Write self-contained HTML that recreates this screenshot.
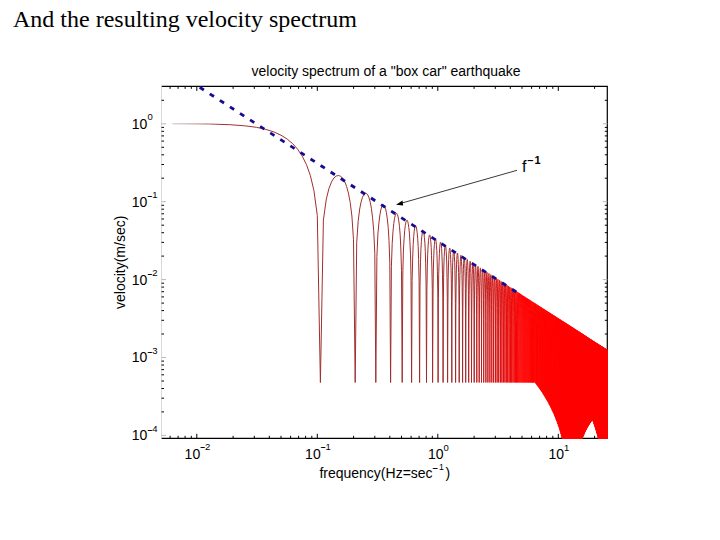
<!DOCTYPE html>
<html><head><meta charset="utf-8"><style>
html,body{margin:0;padding:0;background:#fff;width:720px;height:540px;overflow:hidden}
svg{position:absolute;left:0;top:0}
text{font-family:"Liberation Sans",sans-serif;font-size:14px;fill:#000}
.ser{font-family:"Liberation Serif",serif;font-size:24px}
</style></head><body>
<svg width="720" height="540" viewBox="0 0 720 540">
<text class="ser" x="13" y="26.7">And the resulting velocity spectrum</text>
<text x="251.5" y="75.7">velocity spectrum of a "box car" earthquake</text>
<defs>
<clipPath id="c"><rect x="160.8" y="85.7" width="447.19999999999993" height="353.29999999999995"/></clipPath>
<linearGradient id="g" gradientUnits="userSpaceOnUse" x1="160" y1="0" x2="522" y2="0">
<stop offset="0.03" stop-color="#d0c4c4"/><stop offset="0.1" stop-color="#c09090"/><stop offset="0.17" stop-color="#a03030"/><stop offset="0.834" stop-color="#a02c2c"/><stop offset="1" stop-color="#ff0000"/></linearGradient>
</defs>
<path d="M161.5 86.4H607.3V438.3H161.5" fill="none" stroke="#000" stroke-width="1.2"/>
<path d="M161.5 86.4V438.3" fill="none" stroke="#d8d8d8" stroke-width="1"/>
<path d="M170.1 86.4v2.5 M170.1 438.3v-2.5 M178.1 86.4v2.5 M178.1 438.3v-2.5 M185.1 86.4v2.5 M185.1 438.3v-2.5 M191.3 86.4v2.5 M191.3 438.3v-2.5 M196.8 86.4v4.5 M196.8 438.3v-4.5 M233.1 86.4v2.5 M233.1 438.3v-2.5 M254.3 86.4v2.5 M254.3 438.3v-2.5 M269.3 86.4v2.5 M269.3 438.3v-2.5 M281.0 86.4v2.5 M281.0 438.3v-2.5 M290.6 86.4v2.5 M290.6 438.3v-2.5 M298.6 86.4v2.5 M298.6 438.3v-2.5 M305.6 86.4v2.5 M305.6 438.3v-2.5 M311.8 86.4v2.5 M311.8 438.3v-2.5 M317.3 86.4v4.5 M317.3 438.3v-4.5 M353.6 86.4v2.5 M353.6 438.3v-2.5 M374.8 86.4v2.5 M374.8 438.3v-2.5 M389.8 86.4v2.5 M389.8 438.3v-2.5 M401.5 86.4v2.5 M401.5 438.3v-2.5 M411.1 86.4v2.5 M411.1 438.3v-2.5 M419.1 86.4v2.5 M419.1 438.3v-2.5 M426.1 86.4v2.5 M426.1 438.3v-2.5 M432.3 86.4v2.5 M432.3 438.3v-2.5 M437.8 86.4v4.5 M437.8 438.3v-4.5 M474.1 86.4v2.5 M474.1 438.3v-2.5 M495.3 86.4v2.5 M495.3 438.3v-2.5 M510.3 86.4v2.5 M510.3 438.3v-2.5 M522.0 86.4v2.5 M522.0 438.3v-2.5 M531.6 86.4v2.5 M531.6 438.3v-2.5 M539.6 86.4v2.5 M539.6 438.3v-2.5 M546.6 86.4v2.5 M546.6 438.3v-2.5 M552.8 86.4v2.5 M552.8 438.3v-2.5 M558.3 86.4v4.5 M558.3 438.3v-4.5 M594.6 86.4v2.5 M594.6 438.3v-2.5 M161.5 411.9h2.5 M607.3 411.9h-2.5 M161.5 398.2h2.5 M607.3 398.2h-2.5 M161.5 388.5h2.5 M607.3 388.5h-2.5 M161.5 381.0h2.5 M607.3 381.0h-2.5 M161.5 374.8h2.5 M607.3 374.8h-2.5 M161.5 369.6h2.5 M607.3 369.6h-2.5 M161.5 365.0h2.5 M607.3 365.0h-2.5 M161.5 361.1h2.5 M607.3 361.1h-2.5 M161.5 334.0h2.5 M607.3 334.0h-2.5 M161.5 320.3h2.5 M607.3 320.3h-2.5 M161.5 310.6h2.5 M607.3 310.6h-2.5 M161.5 303.1h2.5 M607.3 303.1h-2.5 M161.5 296.9h2.5 M607.3 296.9h-2.5 M161.5 291.7h2.5 M607.3 291.7h-2.5 M161.5 287.1h2.5 M607.3 287.1h-2.5 M161.5 283.2h2.5 M607.3 283.2h-2.5 M161.5 256.1h2.5 M607.3 256.1h-2.5 M161.5 242.4h2.5 M607.3 242.4h-2.5 M161.5 232.7h2.5 M607.3 232.7h-2.5 M161.5 225.2h2.5 M607.3 225.2h-2.5 M161.5 219.0h2.5 M607.3 219.0h-2.5 M161.5 213.8h2.5 M607.3 213.8h-2.5 M161.5 209.2h2.5 M607.3 209.2h-2.5 M161.5 205.3h2.5 M607.3 205.3h-2.5 M161.5 178.2h2.5 M607.3 178.2h-2.5 M161.5 164.5h2.5 M607.3 164.5h-2.5 M161.5 154.8h2.5 M607.3 154.8h-2.5 M161.5 147.3h2.5 M607.3 147.3h-2.5 M161.5 141.1h2.5 M607.3 141.1h-2.5 M161.5 135.9h2.5 M607.3 135.9h-2.5 M161.5 131.3h2.5 M607.3 131.3h-2.5 M161.5 127.4h2.5 M607.3 127.4h-2.5 M161.5 100.3h2.5 M607.3 100.3h-2.5" fill="none" stroke="#000" stroke-width="1"/>
<path d="M161.5 435.4h4.5 M607.3 435.4h-4.5 M161.5 357.5h4.5 M607.3 357.5h-4.5 M161.5 279.6h4.5 M607.3 279.6h-4.5 M161.5 201.7h4.5 M607.3 201.7h-4.5 M161.5 123.8h4.5 M607.3 123.8h-4.5" fill="none" stroke="#b8b8b8" stroke-width="1"/>
<g clip-path="url(#c)">
<path d="M172.2 123.8 208.5 124.0 229.7 124.7 244.7 125.8 256.4 127.3 265.9 129.4 274.0 132.0 281.0 135.2 287.2 139.1 292.7 143.7 297.7 149.3 302.2 156.1 306.4 164.5 310.3 175.3 313.9 190.4 317.3 215.4 320.4 382.5 323.4 220.1 326.3 199.1 329.0 188.3 331.5 181.9 333.9 178.0 336.3 176.0 338.5 175.5 340.6 176.2 342.7 178.3 344.7 181.6 346.6 186.4 348.4 193.1 350.2 202.4 351.9 216.0 353.5 239.7 355.2 382.5 356.7 242.8 358.2 220.8 359.7 209.0 361.1 201.8 362.5 197.2 363.9 194.5 365.2 193.3 366.5 193.5 367.8 195.0 369.0 197.8 370.2 202.1 371.4 208.3 372.5 217.2 373.7 230.4 374.8 253.5 375.8 382.5 376.9 256.5 377.9 234.0 379.0 221.9 380.0 214.3 380.9 209.4 381.9 206.4 382.8 205.0 383.8 204.9 384.7 206.1 385.6 208.7 386.4 212.8 387.3 218.8 388.2 227.4 389.0 240.4 389.8 263.2 390.6 382.5 391.4 266.3 392.2 243.5 393.0 231.2 393.8 223.4 394.5 218.4 395.3 215.2 396.0 213.6 396.7 213.4 397.4 214.5 398.1 216.9 398.8 220.9 399.5 226.7 400.2 235.2 400.8 248.0 401.5 270.6 402.2 382.5 402.8 274.0 403.4 250.9 404.1 238.5 404.7 230.6 405.3 225.4 405.9 222.2 406.5 220.5 407.1 220.2 407.7 221.2 408.2 223.5 408.8 227.4 409.4 233.1 409.9 241.5 410.5 254.2 411.0 276.6 411.6 382.5 412.1 280.4 412.7 257.1 413.2 244.5 413.7 236.6 414.2 231.3 414.7 228.0 415.2 226.2 415.7 225.8 416.2 226.8 416.7 229.0 417.2 232.8 417.7 238.5 418.2 246.8 418.6 259.4 419.1 281.6 419.6 382.5 420.0 285.8 420.5 262.3 420.9 249.7 421.4 241.6 421.8 236.3 422.3 232.9 422.7 231.1 423.2 230.7 423.6 231.5 424.0 233.8 424.4 237.5 424.9 243.1 425.3 251.3 425.7 263.9 426.1 285.9 426.5 382.5 426.9 290.6 427.3 266.9 427.7 254.2 428.1 246.1 428.5 240.7 428.9 237.3 429.3 235.4 429.7 234.9 430.0 235.7 430.4 237.9 430.8 241.6 431.2 247.2 431.5 255.3 431.9 267.8 432.3 289.7 432.6 382.5 433.0 294.8 433.3 271.0 433.7 258.2 434.0 250.0 434.4 244.6 434.7 241.1 435.1 239.2 435.4 238.7 435.8 239.5 436.1 241.6 436.4 245.3 436.8 250.8 437.1 258.9 437.4 271.3 437.8 293.0 438.1 382.5 438.4 298.6 438.7 274.6 439.1 261.7 439.4 253.5 439.7 248.1 440.0 244.6 440.3 242.6 440.6 242.1 440.9 242.8 441.3 244.9 441.6 248.5 441.9 254.0 442.2 262.1 442.5 274.4 442.8 296.0 443.1 382.5 443.4 302.1 443.6 277.9 443.9 265.0 444.2 256.7 444.5 251.2 444.8 247.7 445.1 245.7 445.4 245.1 445.7 245.9 445.9 247.9 446.2 251.5 446.5 257.0 446.8 265.0 447.0 277.3 447.3 298.7 447.6 382.5 447.9 305.4 448.1 281.0 448.4 268.0 448.7 259.6 448.9 254.1 449.2 250.6 449.5 248.6 449.7 248.0 450.0 248.7 450.2 250.7 450.5 254.3 450.7 259.7 451.0 267.7 451.3 279.9 451.5 301.2 451.8 382.5 452.0 308.3 452.3 283.8 452.5 270.7 452.7 262.4 453.0 256.8 453.2 253.2 453.5 251.2 453.7 250.6 454.0 251.2 454.2 253.3 454.4 256.8 454.7 262.2 454.9 270.2 455.1 282.3 455.4 303.5 455.6 382.5 455.8 311.1 456.1 286.4 456.3 273.3 456.5 264.9 456.8 259.3 457.0 255.7 457.2 253.6 457.4 253.0 457.7 253.6 457.9 255.6 458.1 259.2 458.3 264.5 458.6 272.5 458.8 284.5 459.0 305.6 459.2 382.5 459.4 313.7 459.6 288.9 459.9 275.6 460.1 267.2 460.3 261.6 460.5 258.0 460.7 255.9 460.9 255.2 461.1 255.9 461.3 257.9 461.5 261.4 461.8 266.7 462.0 274.6 462.2 286.6 462.4 307.6 462.6 382.5 462.8 316.2 463.0 291.2 463.2 277.9 463.4 269.4 463.6 263.8 463.8 260.1 464.0 258.1 464.2 257.4 464.4 258.0 464.6 259.9 464.8 263.4 465.0 268.7 465.2 276.6 465.4 288.6 465.5 309.4 465.7 382.5 465.9 318.6 466.1 293.3 466.3 280.0 466.5 271.5 466.7 265.8 466.9 262.2 467.1 260.1 467.2 259.4 467.4 260.0 467.6 261.9 467.8 265.4 468.0 270.7 468.2 278.5 468.4 290.4 468.5 311.1 468.7 382.5 468.9 320.8 469.1 295.4 469.3 282.0 469.4 273.5 469.6 267.8 469.8 264.1 470.0 262.0 470.1 261.2 470.3 261.8 470.5 263.7 470.7 267.2 470.8 272.5 471.0 280.3 471.2 292.1 471.4 312.7 471.5 382.5 471.7 322.9 471.9 297.3 472.0 283.9 472.2 275.3 472.4 269.6 472.6 265.9 472.7 263.8 472.9 263.0 473.1 263.6 473.2 265.5 473.4 268.9 473.6 274.2 473.7 281.9 473.9 293.8 474.0 314.2 474.2 382.5 474.4 325.0 474.5 299.2 474.7 285.7 474.9 277.1 475.0 271.4 475.2 267.6 475.3 265.5 475.5 264.7 475.7 265.3 475.8 267.2 476.0 270.6 476.1 275.8 476.3 283.5 476.4 295.3 476.6 315.7 476.8 382.5 476.9 326.9 477.1 301.0 477.2 287.4 477.4 278.8 477.5 273.0 477.7 269.3 477.8 267.1 478.0 266.3 478.1 266.9 478.3 268.7 478.4 272.1 478.6 277.3 478.7 285.0 478.9 296.8 479.0 317.0 479.2 382.5 479.3 328.8 479.5 302.7 479.6 289.0 479.8 280.4 479.9 274.6 480.1 270.8 480.2 268.7 480.4 267.9 480.5 268.4 480.6 270.2 480.8 273.6 480.9 278.8 481.1 286.5 481.2 298.2 481.4 318.3 481.5 382.5 481.6 330.6 481.8 304.3 481.9 290.6 482.1 281.9 482.2 276.1 482.3 272.3 482.5 270.1 482.6 269.3 482.8 269.8 482.9 271.7 483.0 275.0 483.2 280.2 483.3 287.9 483.5 299.5 483.6 319.5 483.7 382.5 483.9 332.4 484.0 305.9 484.1 292.1 484.3 283.4 484.4 277.6 484.5 273.8 484.7 271.6 484.8 270.8 484.9 271.2 485.1 273.1 485.2 276.4 485.3 281.6 485.5 289.2 485.6 300.8 485.7 320.7 485.9 382.5 486.0 334.1 486.1 307.4 486.2 293.6 486.4 284.8 486.5 279.0 486.6 275.2 486.8 272.9 486.9 272.1 487.0 272.6 487.1 274.4 487.3 277.7 487.4 282.9 487.5 290.5 487.7 302.0 487.8 321.8 487.9 382.5 488.0 335.7 488.2 308.9 488.3 295.0 488.4 286.2 488.5 280.3 488.7 276.5 488.8 274.3 488.9 273.4 489.0 273.9 489.1 275.7 489.3 279.0 489.4 284.1 489.5 291.7 489.6 303.2 489.8 322.9 489.9 382.5 490.0 337.3 490.1 310.3 490.2 296.3 490.4 287.5 490.5 281.6 490.6 277.8 490.7 275.5 490.8 274.7 491.0 275.1 491.1 276.9 491.2 280.2 491.3 285.3 491.4 292.8 491.5 304.3 491.7 323.9 491.8 382.5 491.9 338.9 492.0 311.6 492.1 297.7 492.2 288.8 492.4 282.9 492.5 279.0 492.6 276.8 492.7 275.9 492.8 276.3 492.9 278.1 493.0 281.4 493.2 286.4 493.3 294.0 493.4 305.4 493.5 324.9 493.6 382.5 493.7 340.4 493.8 313.0 493.9 298.9 494.1 290.0 494.2 284.1 494.3 280.2 494.4 277.9 494.5 277.0 494.6 277.5 494.7 279.2 494.8 282.5 494.9 287.5 495.0 295.0 495.2 306.4 495.3 325.8 495.4 382.5 495.5 341.9 495.6 314.3 495.7 300.1 495.8 291.2 495.9 285.3 496.0 281.4 496.1 279.1 496.2 278.2 496.3 278.6 496.5 280.3 496.6 283.6 496.7 288.6 496.8 296.1 496.9 307.4 497.0 326.7 497.1 382.5 497.2 343.4 497.3 315.5 497.4 301.3 497.5 292.4 497.6 286.4 497.7 282.5 497.8 280.2 497.9 279.3 498.0 279.7 498.1 281.4 498.2 284.6 498.3 289.7 498.4 297.1 498.5 308.4 498.6 327.6 498.7 382.5 498.8 344.8 499.0 316.7 499.1 302.5 499.2 293.5 499.3 287.5 499.4 283.6 499.5 281.3 499.6 280.3 499.7 280.7 499.8 282.4 499.9 285.7 500.0 290.7 500.1 298.1 500.2 309.3 500.3 328.4 500.4 382.5 500.5 346.2 500.6 317.9 500.7 303.6 500.7 294.6 500.8 288.6 500.9 284.6 501.0 282.3 501.1 281.4 501.2 281.7 501.3 283.4 501.4 286.6 501.5 291.6 501.6 299.0 501.7 310.2 501.8 329.2 501.9 382.5 502.0 347.5 502.1 319.1 502.2 304.7 502.3 295.7 502.4 289.6 502.5 285.7 502.6 283.3 502.7 282.4 502.8 282.7 502.9 284.4 503.0 287.6 503.1 292.6 503.1 299.9 503.2 311.1 503.3 330.0 503.4 382.5 503.5 348.9 503.6 320.2 503.7 305.8 503.8 296.7 503.9 290.6 504.0 286.7 504.1 284.3 504.2 283.3 504.3 283.7 504.4 285.4 504.4 288.5 504.5 293.5 504.6 300.8 504.7 312.0 504.8 330.8 504.9 382.5 505.0 350.2 505.1 321.3 505.2 306.8 505.3 297.7 505.4 291.6 505.4 287.6 505.5 285.2 505.6 284.3 505.7 284.6 505.8 286.3 505.9 289.4 506.0 294.4 506.1 301.7 506.2 312.8 506.2 331.5 506.3 382.5 506.4 351.5 506.5 322.3 506.6 307.8 506.7 298.7 506.8 292.6 506.9 288.6 506.9 286.2 507.0 285.2 507.1 285.5 507.2 287.2 507.3 290.3 507.4 295.2 507.5 302.5 507.6 313.6 507.6 332.2 507.7 382.5 507.8 352.7 507.9 323.4 508.0 308.8 508.1 299.6 508.2 293.5 508.2 289.5 508.3 287.1 508.4 286.1 508.5 286.4 508.6 288.0 508.7 291.2 508.7 296.1 508.8 303.3 508.9 314.4 509.0 332.9 509.1 382.5 509.2 354.0 509.2 324.4 509.3 309.8 509.4 300.6 509.5 294.4 509.6 290.4 509.7 288.0 509.7 286.9 509.8 287.3 509.9 288.9 510.0 292.0 510.1 296.9 510.2 304.1 510.2 315.1 510.3 333.5 510.4 382.5 510.5 355.2 510.6 325.4 510.6 310.7 510.7 301.5 510.8 295.3 510.9 291.3 511.0 288.8 511.1 287.8 511.1 288.1 511.2 289.7 511.3 292.8 511.4 297.7 511.5 304.9 511.5 315.8 511.6 334.2 511.7 382.5 511.8 356.5 511.9 326.4 511.9 311.6 512.0 302.4 512.1 296.2 512.2 292.1 512.2 289.7 512.3 288.6 512.4 288.9 512.5 290.5 512.6 293.6 512.6 298.5 512.7 305.7 512.8 316.5 512.9 334.8 513.0 382.5 513.0 357.7 513.1 327.4 513.2 312.5 513.3 303.2 513.3 297.0 513.4 292.9 513.5 290.5 513.6 289.4 513.6 289.7 513.7 291.3 513.8 294.4 513.9 299.2 514.0 306.4 514.0 317.2 514.1 335.4 514.2 382.5 514.3 358.8 514.3 328.3 514.4 313.4 514.5 304.1 514.6 297.9 514.6 293.8 514.7 291.3 514.8 290.2 514.9 290.5 514.9 292.1 515.0 295.1 515.1 299.9 515.2 307.1 515.2 317.9 515.3 336.0 515.4 382.5 515.5 360.0 515.5 329.2 515.6 314.3 515.7 304.9 515.8 298.7 515.8 294.5 515.9 292.1 516.0 291.0 516.0 291.2 516.1 292.8 516.2 295.9 516.3 300.7 516.3 307.8 516.4 318.6 516.5 336.5 516.6 382.5 516.6 361.2 516.7 330.2 516.8 315.1 516.8 305.7 516.9 299.5 517.0 295.3 517.1 292.8 517.1 291.8 517.2 292.0 517.3 293.6 517.4 296.6 517.4 301.4 517.5 308.5 517.6 319.2 517.6 337.1 517.7 382.5 517.8 362.3 517.8 331.1 517.9 315.9 518.0 306.5 518.1 300.2 518.1 296.1 518.2 293.6 518.3 292.5 518.3 292.7 518.4 294.3 518.5 297.3 518.6 302.1 518.6 309.1 518.7 319.8 518.8 337.6 518.8 382.5 518.9 363.5 519.0 331.9 519.0 316.8 519.1 307.3 519.2 301.0 519.2 296.8 519.3 294.3 519.4 293.2 519.5 293.4 519.5 295.0 519.6 298.0 519.7 302.7 519.7 309.8 519.8 320.5 519.9 338.2 519.9 382.5 520.0 364.6 520.1 332.8 520.1 317.6 520.2 308.1 520.3 301.8 520.3 297.6 520.4 295.0 520.5 293.9 520.5 294.1 520.6 295.7 520.7 298.6 520.7 303.4 520.8 310.4 520.9 321.0 520.9 338.7 521.0 382.5 521.1 365.7 521.1 333.7 521.2 318.3 521.3 308.8 521.3 302.5 521.4 298.3 521.5 295.7 521.5 294.6 521.6 294.8 521.7 296.3 521.7 299.3 521.8 304.0 521.9 311.0 521.9 321.6 522.0 339.2 522.1 382.5 522.1 366.8 522.2 334.5 522.3 319.1 522.3 309.6 522.4 303.2 522.5 299.0 522.5 296.4 522.6 295.3 522.7 295.5 522.7 297.0 522.8 300.0 522.8 304.7 522.9 311.7 523.0 322.2 523.0 339.7 523.1 382.5 523.2 367.9 523.2 335.3 523.3 319.9 523.4 310.3 523.4 303.9 523.5 299.7 523.5 297.1 523.6 296.0 523.7 296.1 523.7 297.6 523.8 300.6 523.9 305.3 523.9 312.2 524.0 322.8 524.1 340.1 524.1 382.5 524.2 369.0 524.2 336.1 524.3 320.6 524.4 311.0 524.4 304.6 524.5 300.4 524.6 297.8 524.6 296.6 524.7 296.8 524.7 298.3 524.8 301.2 524.9 305.9 524.9 312.8 525.0 323.3 525.0 340.6 525.1 382.5 525.2 370.1 525.2 336.9 525.3 321.4 525.4 311.7 525.4 305.3 525.5 301.0 525.5 298.4 525.6 297.3 525.7 297.4 525.7 298.9 525.8 301.8 525.8 306.5 525.9 313.4 526.0 323.8 526.0 341.0 526.1 382.5 526.1 371.2 526.2 337.7 526.3 322.1 526.3 312.4 526.4 306.0 526.5 301.7 526.5 299.1 526.6 297.9 526.6 298.0 526.7 299.5 526.7 302.4 526.8 307.0 526.9 314.0 526.9 324.4 527.0 341.5 527.0 382.5 527.1 372.3 527.2 338.5 527.2 322.8 527.3 313.1 527.3 306.6 527.4 302.3 527.5 299.7 527.5 298.5 527.6 298.6 527.6 300.1 527.7 303.0 527.8 307.6 527.8 314.5 527.9 324.9 527.9 341.9 528.0 382.5 528.0 373.4 528.1 339.3 528.2 323.5 528.2 313.8 528.3 307.3 528.3 303.0 528.4 300.3 528.5 299.1 528.5 299.2 528.6 300.7 528.6 303.6 528.7 308.2 528.7 315.0 528.8 325.4 528.9 342.3 528.9 382.5 529.0 374.4 529.0 340.1 529.1 324.2 529.1 314.4 529.2 307.9 529.3 303.6 529.3 300.9 529.4 299.7 529.4 299.8 529.5 301.3 529.5 304.1 529.6 308.7 529.7 315.6 529.7 325.9 529.8 342.8 529.8 382.5 529.9 376.2 529.9 340.8 530.0 324.9 530.0 315.1 530.1 308.5 530.2 304.2 530.2 301.5 530.3 300.3 530.3 300.4 530.4 301.8 530.4 304.7 530.5 309.3 530.6 316.1 530.6 326.3 530.7 343.2 530.7 382.5 530.8 377.3 530.8 341.6 530.9 325.5 530.9 315.7 531.0 309.2 531.0 304.8 531.1 302.1 531.2 300.9 531.2 301.0 531.3 302.4 531.3 305.2 531.4 309.8 531.4 316.6 531.5 326.8 531.5 343.5 531.6 382.5 531.7 378.3 531.7 342.3 531.8 326.2 531.8 316.3 531.9 309.8 531.9 305.4 532.0 302.7 532.0 301.5 532.1 301.5 532.1 302.9 532.2 305.8 532.2 310.3 532.3 317.1 532.4 327.3 532.4 343.9 532.5 382.5 532.5 379.4 532.6 343.0 532.6 326.9 532.7 316.9 532.7 310.4 532.8 306.0 532.8 303.3 532.9 302.0 532.9 302.1 533.0 303.5 533.0 306.3 533.1 310.8 533.2 317.6 533.2 327.7 533.3 344.3 533.3 382.5 533.4 380.4 533.4 343.7 533.5 327.5 533.5 317.6 533.6 310.9 533.6 306.5 533.7 303.8 533.7 302.6 533.8 302.6 533.8 304.0 533.9 306.8 533.9 311.3 534.0 318.1 534.0 328.2 534.1 344.7 534.1 382.5 534.2 381.5 534.3 344.4 534.3 328.1 534.4 318.2 534.4 311.5 534.5 307.1 534.5 304.4 534.6 303.1 534.6 303.1 534.7 304.5 534.7 307.3 534.8 311.8 534.8 318.5 534.9 328.6 534.9 345.0 535.0 382.5 535.0 382.5 535.1 345.1 535.1 328.8 535.2 318.8 535.2 312.1 535.3 307.7 535.3 304.9 535.4 303.6 535.4 303.7 535.5 305.0 535.5 307.8 535.6 312.3 535.6 319.0 535.7 329.0 535.7 345.4 535.8 382.5 535.8 383.6 535.9 345.8 535.9 329.4 536.0 319.3 536.0 312.7 536.1 308.2 536.1 305.5 536.2 304.2 536.2 304.2 536.3 305.5 536.3 308.3 536.4 312.8 536.4 319.4 536.5 329.5 536.5 345.7 536.6 382.5 536.6 384.7 536.7 346.5 536.7 330.0 536.8 319.9 536.8 313.2 536.9 308.8 536.9 306.0 537.0 304.7 537.0 304.7 537.1 306.0 537.1 308.8 537.2 313.2 537.2 319.9 537.3 329.9 537.3 346.1 537.4 382.5 537.4 385.7 537.5 347.2 537.5 330.6 537.6 320.5 537.6 313.8 537.7 309.3 537.7 306.5 537.8 305.2 537.8 305.2 537.9 306.5 537.9 309.3 537.9 313.7 538.0 320.3 538.0 330.3 538.1 346.4 538.1 382.5 538.2 386.8 538.2 347.9 538.3 331.2 538.3 321.1 538.4 314.3 538.4 309.8 538.5 307.0 538.5 305.7 538.6 305.7 538.6 307.0 538.7 309.7 538.7 314.1 538.8 320.8 538.8 330.7 538.9 346.7 538.9 382.5 539.0 387.8 539.0 348.5 539.0 331.8 539.1 321.6 539.1 314.8 539.2 310.3 539.2 307.5 539.3 306.2 539.3 306.2 539.4 307.5 539.4 310.2 539.5 314.6 539.5 321.2 539.6 331.1 539.6 347.1 539.7 382.5 539.7 388.9 539.7 349.2 539.8 332.4 539.8 322.2 539.9 315.4 539.9 310.9 540.0 308.0 540.0 306.7 540.1 306.6 540.1 307.9 540.2 310.6 540.2 315.0 540.3 321.6 540.3 331.5 540.4 347.4 540.4 382.5 540.4 390.0 540.5 349.9 540.5 333.0 540.6 322.7 540.6 315.9 540.7 311.4 540.7 308.5 540.8 307.2 540.8 307.1 540.9 308.4 540.9 311.1 540.9 315.5 541.0 322.0 541.0 331.8 541.1 347.7 541.1 382.5 541.2 391.0 541.2 350.5 541.3 333.5 541.3 323.2 541.4 316.4 541.4 311.9 541.4 309.0 541.5 307.6 541.5 307.6 541.6 308.8 541.6 311.5 541.7 315.9 541.7 322.4 541.8 332.2 541.8 348.0 541.8 382.5 541.9 392.1 541.9 351.2 542.0 334.1 542.0 323.8 542.1 316.9 542.1 312.4 542.2 309.5 542.2 308.1 542.3 308.0 542.3 309.3 542.3 312.0 542.4 316.3 542.4 322.8 542.5 332.6 542.5 348.3 542.6 382.5 542.6 393.2 542.6 351.8 542.7 334.7 542.7 324.3 542.8 317.4 542.8 312.8 542.9 310.0 542.9 308.6 543.0 308.5 543.0 309.7 543.0 312.4 543.1 316.7 543.1 323.2 543.2 332.9 543.2 348.6 543.3 382.5 543.3 394.3 543.4 352.4 543.4 335.2 543.4 324.8 543.5 317.9 543.5 313.3 543.6 310.4 543.6 309.0 543.7 308.9 543.7 310.2 543.7 312.8 543.8 317.1 543.8 323.6 543.9 333.3 543.9 348.9 544.0 382.5 544.0 395.4 544.0 353.1 544.1 335.8 544.1 325.3 544.2 318.4 544.2 313.8 544.3 310.9 544.3 309.5 544.3 309.4 544.4 310.6 544.4 313.2 544.5 317.5 544.5 324.0 544.6 333.6 544.6 349.2 544.6 382.5 544.7 396.5 544.7 353.7 544.8 336.3 544.8 325.8 544.9 318.9 544.9 314.3 544.9 311.4 545.0 309.9 545.0 309.8 545.1 311.0 545.1 313.7 545.1 317.9 545.2 324.4 545.2 334.0 545.3 349.4 545.3 382.5 545.4 397.6 545.4 354.3 545.4 336.8 545.5 326.3 545.5 319.4 545.6 314.7 545.6 311.8 545.6 310.4 545.7 310.2 545.7 311.4 545.8 314.1 545.8 318.3 545.9 324.7 545.9 334.3 545.9 349.7 546.0 382.5 546.0 398.7 546.1 354.9 546.1 337.4 546.1 326.8 546.2 319.8 546.2 315.2 546.3 312.3 546.3 310.8 546.4 310.7 546.4 311.9 546.4 314.5 546.5 318.7 546.5 325.1 546.6 334.7 546.6 350.0 546.6 382.5 546.7 399.8 546.7 355.5 546.8 337.9 546.8 327.3 546.8 320.3 546.9 315.6 546.9 312.7 547.0 311.2 547.0 311.1 547.0 312.3 547.1 314.9 547.1 319.1 547.2 325.5 547.2 335.0 547.2 350.2 547.3 382.5 547.3 400.9 547.4 356.2 547.4 338.4 547.4 327.8 547.5 320.8 547.5 316.1 547.6 313.1 547.6 311.7 547.6 311.5 547.7 312.7 547.7 315.2 547.8 319.5 547.8 325.8 547.8 335.3 547.9 350.5 547.9 382.5 548.0 402.1 548.0 356.8 548.0 338.9 548.1 328.3 548.1 321.2 548.2 316.5 548.2 313.6 548.2 312.1 548.3 311.9 548.3 313.1 548.4 315.6 548.4 319.8 548.4 326.2 548.5 335.6 548.5 350.8 548.6 382.5 548.6 403.2 548.6 357.4 548.7 339.5 548.7 328.8 548.8 321.7 548.8 317.0 548.8 314.0 548.9 312.5 548.9 312.3 549.0 313.5 549.0 316.0 549.0 320.2 549.1 326.5 549.1 335.9 549.2 351.0 549.2 382.5 549.2 404.4 549.3 357.9 549.3 340.0 549.3 329.2 549.4 322.1 549.4 317.4 549.5 314.4 549.5 312.9 549.5 312.7 549.6 313.8 549.6 316.4 549.7 320.6 549.7 326.9 549.7 336.3 549.8 351.3 549.8 382.5 549.8 405.6 549.9 358.5 549.9 340.5 550.0 329.7 550.0 322.6 550.0 317.8 550.1 314.8 550.1 313.3 550.2 313.1 550.2 314.2 550.2 316.8 550.3 320.9 550.3 327.2 550.3 336.6 550.4 351.5 550.4 382.6 550.5 406.7 550.5 359.1 550.5 341.0 550.6 330.2 550.6 323.0 550.6 318.3 550.7 315.2 550.7 313.7 550.8 313.5 550.8 314.6 550.8 317.1 550.9 321.3 550.9 327.5 550.9 336.9 551.0 351.7 551.0 382.6 551.1 408.0 551.1 359.7 551.1 341.5 551.2 330.6 551.2 323.5 551.2 318.7 551.3 315.7 551.3 314.1 551.4 313.9 551.4 315.0 551.4 317.5 551.5 321.6 551.5 327.9 551.5 337.2 551.6 352.0 551.6 382.6 551.7 409.2 551.7 360.3 551.7 342.0 551.8 331.1 551.8 323.9 551.8 319.1 551.9 316.1 551.9 314.5 552.0 314.3 552.0 315.4 552.0 317.8 552.1 322.0 552.1 328.2 552.1 337.5 552.2 352.2 552.2 382.6 552.2 410.4 552.3 360.9 552.3 342.4 552.4 331.5 552.4 324.3 552.4 319.5 552.5 316.5 552.5 314.9 552.5 314.6 552.6 315.7 552.6 318.2 552.7 322.3 552.7 328.5 552.7 337.7 552.8 352.4 552.8 382.6 552.8 411.7 552.9 361.5 552.9 342.9 552.9 332.0 553.0 324.7 553.0 319.9 553.1 316.8 553.1 315.3 553.1 315.0 553.2 316.1 553.2 318.6 553.2 322.6 553.3 328.8 553.3 338.0 553.3 352.7 553.4 382.6 553.4 412.9 553.4 362.0 553.5 343.4 553.5 332.4 553.6 325.2 553.6 320.3 553.6 317.2 553.7 315.6 553.7 315.4 553.7 316.4 553.8 318.9 553.8 323.0 553.8 329.1 553.9 338.3 553.9 352.9 553.9 382.6 554.0 414.2 554.0 362.6 554.1 343.9 554.1 332.8 554.1 325.6 554.2 320.7 554.2 317.6 554.2 316.0 554.3 315.7 554.3 316.8 554.3 319.2 554.4 323.3 554.4 329.4 554.4 338.6 554.5 353.1 554.5 382.6 554.5 415.6 554.6 363.2 554.6 344.4 554.7 333.3 554.7 326.0 554.7 321.1 554.8 318.0 554.8 316.4 554.8 316.1 554.9 317.1 554.9 319.6 554.9 323.6 555.0 329.7 555.0 338.9 555.0 353.3 555.1 382.6 555.1 416.9 555.1 363.7 555.2 344.8 555.2 333.7 555.2 326.4 555.3 321.5 555.3 318.4 555.3 316.8 555.4 316.5 555.4 317.5 555.5 319.9 555.5 324.0 555.5 330.1 555.6 339.1 555.6 353.5 555.6 382.6 555.7 418.3 555.7 364.3 555.7 345.3 555.8 334.1 555.8 326.8 555.8 321.9 555.9 318.8 555.9 317.1 555.9 316.8 556.0 317.8 556.0 320.2 556.0 324.3 556.1 330.3 556.1 339.4 556.1 353.7 556.2 382.6 556.2 419.7 556.2 364.9 556.3 345.8 556.3 334.6 556.3 327.2 556.4 322.3 556.4 319.1 556.4 317.5 556.5 317.2 556.5 318.2 556.5 320.6 556.6 324.6 556.6 330.6 556.6 339.7 556.7 353.9 556.7 382.6 556.7 421.1 556.8 365.4 556.8 346.2 556.8 335.0 556.9 327.6 556.9 322.6 556.9 319.5 557.0 317.8 557.0 317.5 557.1 318.5 557.1 320.9 557.1 324.9 557.2 330.9 557.2 339.9 557.2 354.1 557.3 382.6 557.3 422.5 557.3 366.0 557.4 346.7 557.4 335.4 557.4 328.0 557.5 323.0 557.5 319.9 557.5 318.2 557.5 317.9 557.6 318.8 557.6 321.2 557.6 325.2 557.7 331.2 557.7 340.2 557.7 354.3 557.8 382.6 557.8 424.0 557.8 366.5 557.9 347.1 557.9 335.8 557.9 328.4 558.0 323.4 558.0 320.2 558.0 318.5 558.1 318.2 558.1 319.2 558.1 321.5 558.2 325.5 558.2 331.5 558.2 340.4 558.3 354.5 558.3 382.6 558.3 425.6 558.4 367.1 558.4 347.6 558.4 336.2 558.5 328.8 558.5 323.8 558.5 320.6 558.6 318.9 558.6 318.5 558.6 319.5 558.7 321.8 558.7 325.8 558.7 331.8 558.8 340.7 558.8 354.7 558.8 382.6 558.9 427.1 558.9 367.6 558.9 348.0 559.0 336.6 559.0 329.1 559.0 324.1 559.1 320.9 559.1 319.2 559.1 318.9 559.2 319.8 559.2 322.2 559.2 326.1 559.2 332.1 559.3 340.9 559.3 354.9 559.3 382.6 559.4 428.7 559.4 368.2 559.4 348.5 559.5 337.0 559.5 329.5 559.5 324.5 559.6 321.3 559.6 319.6 559.6 319.2 559.7 320.1 559.7 322.5 559.7 326.4 559.8 332.3 559.8 341.2 559.8 355.1 559.9 382.6 559.9 430.4 559.9 368.7 559.9 348.9 560.0 337.4 560.0 329.9 560.0 324.9 560.1 321.6 560.1 319.9 560.1 319.5 560.2 320.4 560.2 322.8 560.2 326.7 560.3 332.6 560.3 341.4 560.3 355.3 560.4 382.6 560.4 432.1 560.4 369.3 560.5 349.4 560.5 337.8 560.5 330.3 560.5 325.2 560.6 322.0 560.6 320.2 560.6 319.8 560.7 320.8 560.7 323.1 560.7 327.0 560.8 332.9 560.8 341.7 560.8 355.5 560.9 382.6 560.9 433.9 560.9 369.8 561.0 349.8 561.0 338.2 561.0 330.6 561.0 325.6 561.1 322.3 561.1 320.6 561.1 320.2 561.2 321.1 561.2 323.4 561.2 327.2 561.3 333.1 561.3 341.9 561.3 355.7 561.4 382.6 561.4 435.7 561.4 370.3 561.4 350.2 561.5 338.6 561.5 331.0 561.5 325.9 561.6 322.7 561.6 320.9 561.6 320.5 561.7 321.4 561.7 323.7 561.7 327.5 561.8 333.4 561.8 342.2 561.8 355.9 561.8 382.6 561.9 437.6 561.9 370.9 561.9 350.7 562.0 339.0 562.0 331.4 562.0 326.3 562.1 323.0 562.1 321.2 562.1 320.8 562.2 321.7 562.2 324.0 562.2 327.8 562.2 333.7 562.3 342.4 562.3 356.0 562.3 382.6 562.4 439.5 562.4 371.4 562.4 351.1 562.5 339.4 562.5 331.7 562.5 326.6 562.5 323.3 562.6 321.5 562.6 321.1 562.6 322.0 562.7 324.2 562.7 328.1 562.7 333.9 562.8 342.6 562.8 356.2 562.8 382.6 562.8 441.6 562.9 372.0 562.9 351.5 562.9 339.8 563.0 332.1 563.0 327.0 563.0 323.7 563.1 321.9 563.1 321.4 563.1 322.3 563.1 324.5 563.2 328.4 563.2 334.2 563.2 342.8 563.3 356.4 563.3 382.6 563.3 443.7 563.4 372.5 563.4 351.9 563.4 340.2 563.4 332.5 563.5 327.3 563.5 324.0 563.5 322.2 563.6 321.7 563.6 322.6 563.6 324.8 563.6 328.6 563.7 334.4 563.7 343.1 563.7 356.5 563.8 382.6 563.8 446.0 563.8 373.0 563.9 352.4 563.9 340.5 563.9 332.8 563.9 327.6 564.0 324.3 564.0 322.5 564.0 322.0 564.1 322.9 564.1 325.1 564.1 328.9 564.1 334.7 564.2 343.3 564.2 356.7 564.2 382.6 564.3 448.3 564.3 373.6 564.3 352.8 564.4 340.9 564.4 333.2 564.4 328.0 564.4 324.6 564.5 322.8 564.5 322.3 564.5 323.2 564.6 325.4 564.6 329.2 564.6 334.9 564.6 343.5 564.7 356.9 564.7 382.6 564.7 450.8 564.8 374.1 564.8 353.2 564.8 341.3 564.8 333.5 564.9 328.3 564.9 325.0 564.9 323.1 565.0 322.6 565.0 323.4 565.0 325.6 565.0 329.4 565.1 335.2 565.1 343.7 565.1 357.0 565.2 382.6 565.2 453.4 565.2 374.6 565.2 353.6 565.3 341.7 565.3 333.9 565.3 328.6 565.4 325.3 565.4 323.4 565.4 322.9 565.4 323.7 565.5 325.9 565.5 329.7 565.5 335.4 565.6 343.9 565.6 357.2 565.6 382.6 565.6 456.2 565.7 375.9 565.7 354.0 565.7 342.0 565.8 334.2 565.8 329.0 565.8 325.6 565.8 323.7 565.9 323.2 565.9 324.0 565.9 326.2 566.0 329.9 566.0 335.7 566.0 344.1 566.0 357.4 566.1 382.6 566.1 459.2 566.1 376.4 566.2 354.4 566.2 342.4 566.2 334.6 566.2 329.3 566.3 325.9 566.3 324.0 566.3 323.5 566.4 324.3 566.4 326.5 566.4 330.2 566.4 335.9 566.5 344.4 566.5 357.5 566.5 382.6 566.5 462.5 566.6 376.9 566.6 354.8 566.6 342.8 566.7 334.9 566.7 329.6 566.7 326.2 566.7 324.3 566.8 323.8 566.8 324.6 566.8 326.7 566.9 330.4 566.9 336.1 566.9 344.6 566.9 357.7 567.0 382.6 567.0 466.0 567.0 377.4 567.0 355.3 567.1 343.1 567.1 335.2 567.1 329.9 567.2 326.5 567.2 324.6 567.2 324.1 567.2 324.8 567.3 327.0 567.3 330.7 567.3 336.4 567.4 344.8 567.4 357.8 567.4 382.6 567.4 469.8 567.5 378.0 567.5 355.7 567.5 343.5 567.5 335.6 567.6 330.3 567.6 326.8 567.6 324.9 567.7 324.4 567.7 325.1 567.7 327.3 567.7 330.9 567.8 336.6 567.8 345.0 567.8 358.0 567.8 382.6 567.9 474.1 567.9 378.5 567.9 356.1 568.0 343.8 568.0 335.9 568.0 330.6 568.0 327.1 568.1 325.2 568.1 324.6 568.1 325.4 568.1 327.5 568.2 331.2 568.2 336.8 568.2 345.2 568.3 358.1 568.3 382.6 568.3 478.9 568.3 379.0 568.4 356.5 568.4 344.2 568.4 336.2 568.4 330.9 568.5 327.4 568.5 325.5 568.5 324.9 568.5 325.7 568.6 327.8 568.6 331.4 568.6 337.0 568.7 345.4 568.7 358.3 568.7 382.7 568.7 484.4 568.8 379.6 568.8 356.9 568.8 344.5 568.8 336.6 568.9 331.2 568.9 327.7 568.9 325.8 568.9 325.2 569.0 325.9 569.0 328.0 569.0 331.7 569.1 337.3 569.1 345.6 569.1 358.4 569.1 382.7 569.2 490.8 569.2 380.1 569.2 357.3 569.2 344.9 569.3 336.9 569.3 331.5 569.3 328.0 569.3 326.1 569.4 325.5 569.4 326.2 569.4 328.3 569.5 331.9 569.5 337.5 569.5 345.8 569.5 358.6 569.6 382.7 569.6 498.6 569.6 380.6 569.6 357.7 569.7 345.2 569.7 337.2 569.7 331.8 569.7 328.3 569.8 326.3 569.8 325.7 569.8 326.5 569.8 328.5 569.9 332.2 569.9 337.7 569.9 346.0 570.0 358.7 570.0 382.7 570.0 508.7 570.0 381.1 570.1 358.1 570.1 345.6 570.1 337.5 570.1 332.1 570.2 328.6 570.2 326.6 570.2 326.0 570.2 326.7 570.3 328.8 570.3 332.4 570.3 337.9 570.3 346.2 570.4 358.9 570.4 382.7 570.4 522.6 570.4 381.7 570.5 358.4 570.5 345.9 570.5 337.8 570.6 332.4 570.6 328.9 570.6 326.9 570.6 326.3 570.7 327.0 570.7 329.0 570.7 332.6 570.7 338.1 570.8 346.3 570.8 359.0 570.8 382.7 570.8 546.4 570.9 382.2 570.9 358.8 570.9 346.3 570.9 338.2 571.0 332.7 571.0 329.2 571.0 327.2 571.0 326.5 571.1 327.2 571.1 329.3 571.1 332.9 571.1 338.4 571.2 346.5 571.2 359.2 571.2 382.7 571.2 1351.0 571.3 382.7 571.3 359.2 571.3 346.6 571.3 338.5 571.4 333.0 571.4 329.5 571.4 327.5 571.4 326.8 571.5 327.5 571.5 329.5 571.5 333.1 571.5 338.6 571.6 346.7 571.6 359.3 571.6 382.7 571.7 546.9 571.7 383.2 571.7 359.6 571.7 347.0 571.8 338.8 571.8 333.3 571.8 329.7 571.8 327.7 571.9 327.1 571.9 327.7 571.9 329.7 571.9 333.3 572.0 338.8 572.0 346.9 572.0 359.4 572.0 382.7 572.1 523.7 572.1 383.8 572.1 360.0 572.1 347.3 572.2 339.1 572.2 333.6 572.2 330.0 572.2 328.0 572.3 327.3 572.3 328.0 572.3 330.0 572.3 333.5 572.4 339.0 572.4 347.1 572.4 359.6 572.4 382.7 572.5 510.2 572.5 384.3 572.5 360.4 572.5 347.6 572.6 339.4 572.6 333.9 572.6 330.3 572.6 328.3 572.7 327.6 572.7 328.2 572.7 330.2 572.7 333.8 572.8 339.2 572.8 347.3 572.8 359.7 572.8 382.7 572.9 500.8 572.9 384.8 572.9 360.8 572.9 348.0 573.0 339.7 573.0 334.2 573.0 330.6 573.0 328.5 573.1 327.8 573.1 328.5 573.1 330.5 573.1 334.0 573.1 339.4 573.2 347.4 573.2 359.8 573.2 382.7 573.2 493.5 573.3 385.3 573.3 361.2 573.3 348.3 573.3 340.0 573.4 334.5 573.4 330.9 573.4 328.8 573.4 328.1 573.5 328.7 573.5 330.7 573.5 334.2 573.5 339.6 573.6 347.6 573.6 360.0 573.6 382.7 573.6 487.6 573.7 385.9 573.7 361.5 573.7 348.6 573.7 340.3 573.8 334.8 573.8 331.1 573.8 329.1 573.8 328.4 573.9 329.0 573.9 330.9 573.9 334.4 573.9 339.8 574.0 347.8 574.0 360.1 574.0 382.7 574.0 482.6 574.1 386.4 574.1 361.9 574.1 349.0 574.1 340.6 574.1 335.1 574.2 331.4 574.2 329.3 574.2 328.6 574.2 329.2 574.3 331.2 574.3 334.6 574.3 340.0 574.3 348.0 574.4 360.2 574.4 382.7 574.4 478.3 574.4 386.9 574.5 362.3 574.5 349.3 574.5 341.0 574.5 335.3 574.6 331.7 574.6 329.6 574.6 328.9 574.6 329.4 574.7 331.4 574.7 334.8 574.7 340.2 574.7 348.1 574.7 360.4 574.8 382.7 574.8 474.6 574.8 387.4 574.8 362.7 574.9 349.6 574.9 341.3 574.9 335.6 574.9 332.0 575.0 329.8 575.0 329.1 575.0 329.7 575.0 331.6 575.1 335.1 575.1 340.4 575.1 348.3 575.1 360.5 575.2 382.7 575.2 471.3 575.2 388.0 575.2 363.0 575.2 350.0 575.3 341.5 575.3 335.9 575.3 332.2 575.3 330.1 575.4 329.4 575.4 329.9 575.4 331.8 575.4 335.3 575.5 340.6 575.5 348.5 575.5 360.6 575.5 382.7 575.6 468.3 575.6 388.5 575.6 363.4 575.6 350.3 575.6 341.8 575.7 336.2 575.7 332.5 575.7 330.4 575.7 329.6 575.8 330.1 575.8 332.1 575.8 335.5 575.8 340.8 575.9 348.7 575.9 360.7 575.9 382.7 575.9 465.6 576.0 389.0 576.0 363.8 576.0 350.6 576.0 342.1 576.0 336.5 576.1 332.8 576.1 330.6 576.1 329.8 576.1 330.4 576.2 332.3 576.2 335.7 576.2 341.0 576.2 348.8 576.3 360.8 576.3 382.7 576.3 463.1 576.3 389.6 576.3 364.2 576.4 350.9 576.4 342.4 576.4 336.7 576.4 333.0 576.5 330.9 576.5 330.1 576.5 330.6 576.5 332.5 576.6 335.9 576.6 341.2 576.6 349.0 576.6 361.0 576.6 382.7 576.7 460.8 576.7 390.1 576.7 364.5 576.7 351.2 576.8 342.7 576.8 337.0 576.8 333.3 576.8 331.1 576.9 330.3 576.9 330.8 576.9 332.7 576.9 336.1 576.9 341.3 577.0 349.1 577.0 361.1 577.0 382.7 577.0 458.8 577.1 390.6 577.1 364.9 577.1 351.6 577.1 343.0 577.2 337.3 577.2 333.5 577.2 331.4 577.2 330.6 577.2 331.1 577.3 332.9 577.3 336.3 577.3 341.5 577.3 349.3 577.4 361.2 577.4 382.7 577.4 456.8 577.4 391.2 577.4 365.3 577.5 351.9 577.5 343.3 577.5 337.6 577.5 333.8 577.6 331.6 577.6 330.8 577.6 331.3 577.6 333.1 577.7 336.5 577.7 341.7 577.7 349.5 577.7 361.3 577.7 382.7 577.8 455.0 577.8 391.7 577.8 365.7 577.8 352.2 577.9 343.6 577.9 337.8 577.9 334.1 577.9 331.8 577.9 331.0 578.0 331.5 578.0 333.4 578.0 336.7 578.0 341.9 578.1 349.6 578.1 361.4 578.1 382.7 578.1 453.3 578.1 392.2 578.2 366.0 578.2 352.5 578.2 343.9 578.2 338.1 578.3 334.3 578.3 332.1 578.3 331.3 578.3 331.7 578.3 333.6 578.4 336.9 578.4 342.1 578.4 349.8 578.4 361.6 578.5 382.7 578.5 451.7 578.5 392.8 578.5 366.4 578.5 352.8 578.6 344.2 578.6 338.4 578.6 334.6 578.6 332.3 578.7 331.5 578.7 332.0 578.7 333.8 578.7 337.1 578.7 342.3 578.8 349.9 578.8 361.7 578.8 382.7 578.8 450.2 578.9 393.3 578.9 366.8 578.9 353.1 578.9 344.5 578.9 338.6 579.0 334.8 579.0 332.6 579.0 331.7 579.0 332.2 579.1 334.0 579.1 337.3 579.1 342.4 579.1 350.1 579.1 361.8 579.2 382.7 579.2 448.8 579.2 393.8 579.2 367.1 579.3 353.4 579.3 344.7 579.3 338.9 579.3 335.1 579.3 332.8 579.4 331.9 579.4 332.4 579.4 334.2 579.4 337.5 579.4 342.6 579.5 350.3 579.5 361.9 579.5 382.8 579.5 447.4 579.6 394.4 579.6 367.5 579.6 353.8 579.6 345.0 579.6 339.2 579.7 335.3 579.7 333.1 579.7 332.2 579.7 332.6 579.8 334.4 579.8 337.7 579.8 342.8 579.8 350.4 579.8 362.0 579.9 382.8 579.9 446.1 579.9 394.9 579.9 367.8 579.9 354.1 580.0 345.3 580.0 339.4 580.0 335.6 580.0 333.3 580.1 332.4 580.1 332.8 580.1 334.6 580.1 337.9 580.1 343.0 580.2 350.6 580.2 362.1 580.2 382.8 580.2 444.9 580.3 395.5 580.3 368.2 580.3 354.4 580.3 345.6 580.3 339.7 580.4 335.8 580.4 333.5 580.4 332.6 580.4 333.0 580.4 334.8 580.5 338.1 580.5 343.1 580.5 350.7 580.5 362.2 580.6 382.8 580.6 443.8 580.6 396.0 580.6 368.6 580.6 354.7 580.7 345.9 580.7 339.9 580.7 336.0 580.7 333.8 580.7 332.8 580.8 333.3 580.8 335.0 580.8 338.3 580.8 343.3 580.8 350.9 580.9 362.3 580.9 382.8 580.9 442.7 580.9 396.6 581.0 368.9 581.0 355.0 581.0 346.1 581.0 340.2 581.0 336.3 581.1 334.0 581.1 333.1 581.1 333.5 581.1 335.2 581.1 338.4 581.2 343.5 581.2 351.0 581.2 362.4 581.2 382.8 581.3 441.6 581.3 397.1 581.3 369.3 581.3 355.3 581.3 346.4 581.4 340.5 581.4 336.5 581.4 334.2 581.4 333.3 581.4 333.7 581.5 335.4 581.5 338.6 581.5 343.7 581.5 351.2 581.5 362.5 581.6 382.8 581.6 440.6 581.6 397.7 581.6 369.6 581.7 355.6 581.7 346.7 581.7 340.7 581.7 336.8 581.7 334.4 581.8 333.5 581.8 333.9 581.8 335.6 581.8 338.8 581.8 343.8 581.9 351.3 581.9 362.7 581.9 382.8 581.9 439.6 581.9 398.2 582.0 370.0 582.0 355.9 582.0 347.0 582.0 341.0 582.0 337.0 582.1 334.7 582.1 333.7 582.1 334.1 582.1 335.8 582.2 339.0 582.2 344.0 582.2 351.4 582.2 362.8 582.2 382.8 582.3 438.7 582.3 398.8 582.3 370.4 582.3 356.2 582.3 347.2 582.4 341.2 582.4 337.3 582.4 334.9 582.4 333.9 582.4 334.3 582.5 336.0 582.5 339.2 582.5 344.2 582.5 351.6 582.5 362.9 582.6 382.8 582.6 437.8 582.6 399.3 582.6 370.7 582.6 356.5 582.7 347.5 582.7 341.5 582.7 337.5 582.7 335.1 582.7 334.2 582.8 334.5 582.8 336.2 582.8 339.4 582.8 344.3 582.9 351.7 582.9 363.0 582.9 382.8 582.9 436.9 582.9 399.9 583.0 371.1 583.0 356.8 583.0 347.8 583.0 341.7 583.0 337.7 583.1 335.4 583.1 334.4 583.1 334.7 583.1 336.4 583.1 339.5 583.2 344.5 583.2 351.9 583.2 363.1 583.2 382.8 583.2 436.1 583.3 400.4 583.3 371.4 583.3 357.1 583.3 348.0 583.3 342.0 583.4 338.0 583.4 335.6 583.4 334.6 583.4 334.9 583.4 336.6 583.5 339.7 583.5 344.7 583.5 352.0 583.5 363.2 583.5 382.8 583.6 435.3 583.6 401.0 583.6 371.8 583.6 357.4 583.6 348.3 583.7 342.2 583.7 338.2 583.7 335.8 583.7 334.8 583.7 335.1 583.8 336.8 583.8 339.9 583.8 344.8 583.8 352.1 583.8 363.3 583.9 382.8 583.9 434.5 583.9 401.6 583.9 372.1 583.9 357.7 584.0 348.6 584.0 342.5 584.0 338.4 584.0 336.0 584.0 335.0 584.1 335.3 584.1 337.0 584.1 340.1 584.1 345.0 584.1 352.3 584.2 363.4 584.2 382.8 584.2 433.8 584.2 402.1 584.2 372.5 584.3 358.0 584.3 348.8 584.3 342.7 584.3 338.7 584.3 336.2 584.4 335.2 584.4 335.5 584.4 337.1 584.4 340.3 584.4 345.1 584.5 352.4 584.5 363.5 584.5 382.8 584.5 433.1 584.5 402.7 584.6 372.9 584.6 358.3 584.6 349.1 584.6 342.9 584.6 338.9 584.7 336.5 584.7 335.4 584.7 335.7 584.7 337.3 584.7 340.4 584.8 345.3 584.8 352.6 584.8 363.6 584.8 382.8 584.8 432.4 584.9 403.3 584.9 373.2 584.9 358.6 584.9 349.4 584.9 343.2 585.0 339.1 585.0 336.7 585.0 335.6 585.0 335.9 585.0 337.5 585.1 340.6 585.1 345.5 585.1 352.7 585.1 363.7 585.1 382.8 585.2 431.7 585.2 403.9 585.2 373.6 585.2 358.8 585.2 349.6 585.2 343.4 585.3 339.3 585.3 336.9 585.3 335.8 585.3 336.1 585.3 337.7 585.4 340.8 585.4 345.6 585.4 352.8 585.4 363.7 585.4 382.8 585.5 431.0 585.5 404.5 585.5 373.9 585.5 359.1 585.5 349.9 585.6 343.7 585.6 339.6 585.6 337.1 585.6 336.0 585.6 336.3 585.7 337.9 585.7 340.9 585.7 345.8 585.7 353.0 585.7 363.8 585.8 382.8 585.8 430.4 585.8 405.0 585.8 374.3 585.8 359.4 585.9 350.1 585.9 343.9 585.9 339.8 585.9 337.3 585.9 336.2 585.9 336.5 586.0 338.1 586.0 341.1 586.0 345.9 586.0 353.1 586.0 363.9 586.1 382.8 586.1 429.8 586.1 405.6 586.1 374.6 586.1 359.7 586.2 350.4 586.2 344.2 586.2 340.0 586.2 337.5 586.2 336.4 586.3 336.7 586.3 338.2 586.3 341.3 586.3 346.1 586.3 353.2 586.4 364.0 586.4 382.8 586.4 429.2 586.4 406.2 586.4 375.7 586.4 360.0 586.5 350.6 586.5 344.4 586.5 340.2 586.5 337.7 586.5 336.6 586.6 336.9 586.6 338.4 586.6 341.4 586.6 346.2 586.6 353.4 586.7 364.1 586.7 382.8 586.7 428.6 586.7 406.8 586.7 376.0 586.8 360.3 586.8 350.9 586.8 344.6 586.8 340.5 586.8 338.0 586.8 336.8 586.9 337.1 586.9 338.6 586.9 341.6 586.9 346.4 586.9 353.5 587.0 364.2 587.0 382.9 587.0 428.1 587.0 407.4 587.0 376.4 587.1 360.6 587.1 351.2 587.1 344.9 587.1 340.7 587.1 338.2 587.1 337.0 587.2 337.2 587.2 338.8 587.2 341.8 587.2 346.5 587.2 353.6 587.3 364.3 587.3 382.9 587.3 427.5 587.3 408.0 587.3 376.7 587.4 360.9 587.4 351.4 587.4 345.1 587.4 340.9 587.4 338.4 587.4 337.2 587.5 337.4 587.5 339.0 587.5 341.9 587.5 346.7 587.5 353.7 587.6 364.4 587.6 382.9 587.6 427.0 587.6 408.6 587.6 377.1 587.7 361.2 587.7 351.7 587.7 345.3 587.7 341.1 587.7 338.6 587.7 337.4 587.8 337.6 587.8 339.1 587.8 342.1 587.8 346.8 587.8 353.9 587.9 364.5 587.9 382.9 587.9 426.5 587.9 409.2 587.9 377.4 588.0 361.4 588.0 351.9 588.0 345.6 588.0 341.4 588.0 338.8 588.0 337.6 588.1 337.8 588.1 339.3 588.1 342.3 588.1 347.0 588.1 354.0 588.2 364.6 588.2 382.9 588.2 425.9 588.2 409.9 588.2 377.8 588.2 361.7 588.3 352.2 588.3 345.8 588.3 341.6 588.3 339.0 588.3 337.8 588.4 338.0 588.4 339.5 588.4 342.4 588.4 347.1 588.4 354.1 588.5 364.7 588.5 382.9 588.5 425.5 588.5 410.5 588.5 378.1 588.5 362.0 588.6 352.4 588.6 346.0 588.6 341.8 588.6 339.2 588.6 338.0 588.7 338.2 588.7 339.7 588.7 342.6 588.7 347.3 588.7 354.2 588.7 364.7 588.8 382.9 588.8 425.0 588.8 411.1 588.8 378.5 588.8 362.3 588.9 352.7 588.9 346.3 588.9 342.0 588.9 339.4 588.9 338.2 588.9 338.4 589.0 339.8 589.0 342.8 589.0 347.4 589.0 354.4 589.0 364.8 589.1 382.9 589.1 424.5 589.1 411.7 589.1 378.8 589.1 362.6 589.1 352.9 589.2 346.5 589.2 342.2 589.2 339.6 589.2 338.4 589.2 338.5 589.3 340.0 589.3 342.9 589.3 347.5 589.3 354.5 589.3 364.9 589.3 382.9 589.4 424.1 589.4 412.4 589.4 379.2 589.4 362.8 589.4 353.2 589.5 346.7 589.5 342.4 589.5 339.8 589.5 338.6 589.5 338.7 589.5 340.2 589.6 343.1 589.6 347.7 589.6 354.6 589.6 365.0 589.6 382.9 589.6 423.6 589.7 413.0 589.7 379.5 589.7 363.1 589.7 353.4 589.7 346.9 589.8 342.6 589.8 340.0 589.8 338.8 589.8 338.9 589.8 340.3 589.8 343.2 589.9 347.8 589.9 354.7 589.9 365.1 589.9 382.9 589.9 423.2 590.0 413.6 590.0 379.9 590.0 363.4 590.0 353.7 590.0 347.2 590.0 342.9 590.1 340.2 590.1 339.0 590.1 339.1 590.1 340.5 590.1 343.4 590.1 348.0 590.2 354.8 590.2 365.2 590.2 382.9 590.2 422.8 590.2 414.3 590.3 380.2 590.3 363.7 590.3 353.9 590.3 347.4 590.3 343.1 590.3 340.4 590.4 339.2 590.4 339.3 590.4 340.7 590.4 343.5 590.4 348.1 590.5 355.0 590.5 365.3 590.5 382.9 590.5 422.3 590.5 414.9 590.5 380.5 590.6 364.0 590.6 354.2 590.6 347.6 590.6 343.3 590.6 340.6 590.6 339.4 590.7 339.4 590.7 340.8 590.7 343.7 590.7 348.3 590.7 355.1 590.8 365.3 590.8 382.9 590.8 421.9 590.8 415.6 590.8 380.9 590.8 364.2 590.9 354.4 590.9 347.8 590.9 343.5 590.9 340.8 590.9 339.5 590.9 339.6 591.0 341.0 591.0 343.8 591.0 348.4 591.0 355.2 591.0 365.4 591.0 382.9 591.1 421.5 591.1 416.3 591.1 381.2 591.1 364.5 591.1 354.6 591.2 348.1 591.2 343.7 591.2 341.0 591.2 339.7 591.2 339.8 591.2 341.2 591.3 344.0 591.3 348.5 591.3 355.3 591.3 365.5 591.3 382.9 591.3 421.2 591.4 416.9 591.4 381.6 591.4 364.8 591.4 354.9 591.4 348.3 591.4 343.9 591.5 341.2 591.5 339.9 591.5 340.0 591.5 341.3 591.5 344.1 591.6 348.7 591.6 355.4 591.6 365.6 591.6 382.9 591.6 420.8 591.6 417.6 591.7 381.9 591.7 365.1 591.7 355.1 591.7 348.5 591.7 344.1 591.7 341.4 591.8 340.1 591.8 340.1 591.8 341.5 591.8 344.3 591.8 348.8 591.8 355.5 591.9 365.7 591.9 382.9 591.9 420.4 591.9 418.3 591.9 382.3 592.0 365.3 592.0 355.4 592.0 348.7 592.0 344.3 592.0 341.6 592.0 340.3 592.1 340.3 592.1 341.7 592.1 344.4 592.1 348.9 592.1 355.7 592.1 365.7 592.2 382.9 592.2 420.0 592.2 419.0 592.2 382.6 592.2 365.6 592.2 355.6 592.3 349.0 592.3 344.5 592.3 341.8 592.3 340.5 592.3 340.5 592.3 341.8 592.4 344.6 592.4 349.1 592.4 355.8 592.4 365.8 592.4 382.9 592.4 419.7 592.5 419.7 592.5 383.0 592.5 365.9 592.5 355.8 592.5 349.2 592.5 344.7 592.6 342.0 592.6 340.6 592.6 340.7 592.6 342.0 592.6 344.7 592.7 349.2 592.7 355.9 592.7 365.9 592.7 382.9 592.7 419.3 592.7 420.4 592.8 383.3 592.8 366.2 592.8 356.1 592.8 349.4 592.8 344.9 592.8 342.2 592.9 340.8 592.9 340.8 592.9 342.1 592.9 344.9 592.9 349.3 592.9 356.0 593.0 366.0 593.0 383.0 593.0 419.0 593.0 421.1 593.0 383.7 593.0 366.4 593.1 356.3 593.1 349.6 593.1 345.1 593.1 342.3 593.1 341.0 593.1 341.0 593.2 342.3 593.2 345.0 593.2 349.5 593.2 356.1 593.2 366.1 593.2 383.0 593.3 418.7 593.3 421.8 593.3 384.0 593.3 366.7 593.3 356.6 593.3 349.8 593.4 345.3 593.4 342.5 593.4 341.2 593.4 341.2 593.4 342.5 593.4 345.2 593.5 349.6 593.5 356.2 593.5 366.1 593.5 383.0 593.5 418.3 593.5 422.6 593.6 384.4 593.6 367.0 593.6 356.8 593.6 350.0 593.6 345.5 593.6 342.7 593.7 341.4 593.7 341.3 593.7 342.6 593.7 345.3 593.7 349.7 593.7 356.3 593.8 366.2 593.8 383.0 593.8 418.0 593.8 423.3 593.8 384.7 593.8 367.2 593.9 357.0 593.9 350.3 593.9 345.7 593.9 342.9 593.9 341.5 593.9 341.5 594.0 342.8 594.0 345.5 594.0 349.9 594.0 356.4 594.0 366.3 594.0 383.0 594.1 417.7 594.1 424.1 594.1 385.1 594.1 367.5 594.1 357.3 594.1 350.5 594.2 345.9 594.2 343.1 594.2 341.7 594.2 341.7 594.2 342.9 594.2 345.6 594.3 350.0 594.3 356.5 594.3 366.4 594.3 383.0 594.3 417.4 594.3 424.8 594.4 385.4 594.4 367.8 594.4 357.5 594.4 350.7 594.4 346.1 594.4 343.3 594.5 341.9 594.5 341.8 594.5 343.1 594.5 345.8 594.5 350.1 594.5 356.7 594.5 366.4 594.6 383.0 594.6 417.1 594.6 425.6 594.6 385.8 594.6 368.1 594.6 357.7 594.7 350.9 594.7 346.3 594.7 343.5 594.7 342.1 594.7 342.0 594.7 343.2 594.8 345.9 594.8 350.2 594.8 356.8 594.8 366.5 594.8 383.0 594.8 416.8 594.9 426.4 594.9 386.1 594.9 368.3 594.9 358.0 594.9 351.1 594.9 346.5 595.0 343.7 595.0 342.2 595.0 342.2 595.0 343.4 595.0 346.0 595.0 350.4 595.1 356.9 595.1 366.6 595.1 383.0 595.1 416.5 595.1 427.1 595.1 386.5 595.2 368.6 595.2 358.2 595.2 351.3 595.2 346.7 595.2 343.8 595.2 342.4 595.2 342.3 595.3 343.5 595.3 346.2 595.3 350.5 595.3 357.0 595.3 366.7 595.3 383.0 595.4 416.2 595.4 427.9 595.4 386.8 595.4 368.9 595.4 358.4 595.4 351.5 595.5 346.9 595.5 344.0 595.5 342.6 595.5 342.5 595.5 343.7 595.5 346.3 595.6 350.6 595.6 357.1 595.6 366.7 595.6 383.0 595.6 415.9 595.6 428.8 595.6 387.1 595.7 369.1 595.7 358.7 595.7 351.7 595.7 347.1 595.7 344.2 595.7 342.8 595.8 342.6 595.8 343.8 595.8 346.5 595.8 350.7 595.8 357.2 595.8 366.8 595.9 383.0 595.9 415.7 595.9 429.6 595.9 387.5 595.9 369.4 595.9 358.9 596.0 351.9 596.0 347.3 596.0 344.4 596.0 342.9 596.0 342.8 596.0 344.0 596.0 346.6 596.1 350.9 596.1 357.3 596.1 366.9 596.1 383.0 596.1 415.4 596.1 430.4 596.2 387.8 596.2 369.7 596.2 359.1 596.2 352.2 596.2 347.5 596.2 344.6 596.3 343.1 596.3 343.0 596.3 344.1 596.3 346.7 596.3 351.0 596.3 357.4 596.3 367.0 596.4 383.0 596.4 415.1 596.4 431.3 596.4 388.2 596.4 369.9 596.4 359.4 596.5 352.4 596.5 347.7 596.5 344.7 596.5 343.3 596.5 343.1 596.5 344.3 596.6 346.9 596.6 351.1 596.6 357.5 596.6 367.0 596.6 383.0 596.6 414.9 596.6 432.1 596.7 388.5 596.7 370.2 596.7 359.6 596.7 352.6 596.7 347.9 596.7 344.9 596.8 343.4 596.8 343.3 596.8 344.4 596.8 347.0 596.8 351.2 596.8 357.6 596.9 367.1 596.9 383.0 596.9 414.6 596.9 433.0 596.9 388.9 596.9 370.5 596.9 359.8 597.0 352.8 597.0 348.1 597.0 345.1 597.0 343.6 597.0 343.4 597.0 344.6 597.1 347.1 597.1 351.4 597.1 357.7 597.1 367.2 597.1 383.0 597.1 414.4 597.1 433.9 597.2 389.2 597.2 370.7 597.2 360.0 597.2 353.0 597.2 348.3 597.2 345.3 597.3 343.8 597.3 343.6 597.3 344.7 597.3 347.3 597.3 351.5 597.3 357.8 597.4 367.2 597.4 383.0 597.4 414.1 597.4 434.8 597.4 389.6 597.4 371.0 597.4 360.3 597.5 353.2 597.5 348.4 597.5 345.5 597.5 343.9 597.5 343.8 597.5 344.9 597.6 347.4 597.6 351.6 597.6 357.9 597.6 367.3 597.6 383.1 597.6 413.9 597.6 435.7 597.7 389.9 597.7 371.2 597.7 360.5 597.7 353.4 597.7 348.6 597.7 345.6 597.8 344.1 597.8 343.9 597.8 345.0 597.8 347.6 597.8 351.7 597.8 358.0 597.8 367.4 597.9 383.1 597.9 413.6 597.9 436.6 597.9 390.3 597.9 371.5 597.9 360.7 598.0 353.6 598.0 348.8 598.0 345.8 598.0 344.3 598.0 344.1 598.0 345.2 598.0 347.7 598.1 351.8 598.1 358.1 598.1 367.4 598.1 383.1 598.1 413.4 598.1 437.6 598.2 390.7 598.2 371.8 598.2 361.0 598.2 353.8 598.2 349.0 598.2 346.0 598.2 344.4 598.3 344.2 598.3 345.3 598.3 347.8 598.3 352.0 598.3 358.2 598.3 367.5 598.3 383.1 598.4 413.2 598.4 438.6 598.4 391.0 598.4 372.0 598.4 361.2 598.4 354.0 598.5 349.2 598.5 346.2 598.5 344.6 598.5 344.4 598.5 345.5 598.5 347.9 598.5 352.1 598.6 358.3 598.6 367.6 598.6 383.1 598.6 412.9 598.6 439.5 598.6 391.4 598.7 372.3 598.7 361.4 598.7 354.2 598.7 349.4 598.7 346.3 598.7 344.8 598.7 344.5 598.8 345.6 598.8 348.1 598.8 352.2 598.8 358.4 598.8 367.6 598.8 383.1 598.8 412.7 598.9 440.6 598.9 391.7 598.9 372.6 598.9 361.6 598.9 354.4 598.9 349.6 599.0 346.5 599.0 344.9 599.0 344.7 599.0 345.7 599.0 348.2 599.0 352.3 599.0 358.5 599.1 367.7 599.1 383.1 599.1 412.5 599.1 441.6 599.1 392.1 599.1 372.8 599.1 361.8 599.2 354.6 599.2 349.8 599.2 346.7 599.2 345.1 599.2 344.8 599.2 345.9 599.3 348.3 599.3 352.4 599.3 358.6 599.3 367.8 599.3 383.1 599.3 412.3 599.3 442.6 599.4 392.4 599.4 373.1 599.4 362.1 599.4 354.8 599.4 349.9 599.4 346.9 599.4 345.3 599.5 345.0 599.5 346.0 599.5 348.5 599.5 352.5 599.5 358.7 599.5 367.8 599.6 383.1 599.6 412.1 599.6 443.7 599.6 392.8 599.6 373.4 599.6 362.3 599.6 355.0 599.7 350.1 599.7 347.0 599.7 345.4 599.7 345.1 599.7 346.2 599.7 348.6 599.7 352.7 599.8 358.8 599.8 367.9 599.8 383.1 599.8 411.9 599.8 444.8 599.8 393.1 599.8 373.6 599.9 362.5 599.9 355.2 599.9 350.3 599.9 347.2 599.9 345.6 599.9 345.3 600.0 346.3 600.0 348.7 600.0 352.8 600.0 358.9 600.0 368.0 600.0 383.1 600.0 411.7 600.1 446.0 600.1 393.5 600.1 373.9 600.1 362.7 600.1 355.4 600.1 350.5 600.1 347.4 600.2 345.7 600.2 345.4 600.2 346.4 600.2 348.9 600.2 352.9 600.2 359.0 600.2 368.0 600.3 383.1 600.3 411.5 600.3 447.1 600.3 393.8 600.3 374.1 600.3 363.0 600.3 355.6 600.4 350.7 600.4 347.5 600.4 345.9 600.4 345.6 600.4 346.6 600.4 349.0 600.5 353.0 600.5 359.1 600.5 368.1 600.5 383.1 600.5 411.2 600.5 448.3 600.5 394.2 600.6 374.4 600.6 363.2 600.6 355.8 600.6 350.9 600.6 347.7 600.6 346.1 600.6 345.7 600.7 346.7 600.7 349.1 600.7 353.1 600.7 359.2 600.7 368.2 600.7 383.1 600.7 411.1 600.8 449.5 600.8 394.6 600.8 374.7 600.8 363.4 600.8 356.0 600.8 351.0 600.8 347.9 600.9 346.2 600.9 345.9 600.9 346.9 600.9 349.2 600.9 353.2 600.9 359.2 600.9 368.2 601.0 383.1 601.0 410.9 601.0 450.8 601.0 394.9 601.0 375.6 601.0 363.6 601.0 356.2 601.1 351.2 601.1 348.1 601.1 346.4 601.1 346.0 601.1 347.0 601.1 349.4 601.1 353.3 601.2 359.3 601.2 368.3 601.2 383.1 601.2 410.7 601.2 452.1 601.2 395.3 601.2 375.9 601.3 363.8 601.3 356.4 601.3 351.4 601.3 348.2 601.3 346.5 601.3 346.2 601.3 347.1 601.4 349.5 601.4 353.4 601.4 359.4 601.4 368.4 601.4 383.1 601.4 410.5 601.4 453.4 601.5 395.6 601.5 376.1 601.5 364.1 601.5 356.6 601.5 351.6 601.5 348.4 601.5 346.7 601.6 346.3 601.6 347.3 601.6 349.6 601.6 353.5 601.6 359.5 601.6 368.4 601.6 383.2 601.7 410.3 601.7 454.8 601.7 396.0 601.7 376.4 601.7 364.3 601.7 356.8 601.7 351.8 601.8 348.6 601.8 346.8 601.8 346.5 601.8 347.4 601.8 349.7 601.8 353.7 601.8 359.6 601.9 368.5 601.9 383.2 601.9 410.1 601.9 456.2 601.9 396.4 601.9 376.7 601.9 364.5 602.0 357.0 602.0 351.9 602.0 348.7 602.0 347.0 602.0 346.6 602.0 347.5 602.0 349.9 602.1 353.8 602.1 359.7 602.1 368.6 602.1 383.2 602.1 409.9 602.1 457.7 602.1 396.7 602.2 376.9 602.2 364.7 602.2 357.2 602.2 352.1 602.2 348.9 602.2 347.1 602.2 346.8 602.3 347.7 602.3 350.0 602.3 353.9 602.3 359.8 602.3 368.6 602.3 383.2 602.3 409.7 602.4 459.2 602.4 397.1 602.4 377.2 602.4 364.9 602.4 357.4 602.4 352.3 602.4 349.1 602.5 347.3 602.5 346.9 602.5 347.8 602.5 350.1 602.5 354.0 602.5 359.9 602.5 368.7 602.6 383.2 602.6 409.6 602.6 460.8 602.6 397.5 602.6 377.4 602.6 365.2 602.6 357.6 602.7 352.5 602.7 349.2 602.7 347.5 602.7 347.0 602.7 347.9 602.7 350.2 602.7 354.1 602.8 360.0 602.8 368.7 602.8 383.2 602.8 409.4 602.8 462.5 602.8 397.8 602.8 377.7 602.8 365.4 602.9 357.8 602.9 352.7 602.9 349.4 602.9 347.6 602.9 347.2 602.9 348.1 602.9 350.3 603.0 354.2 603.0 360.1 603.0 368.8 603.0 383.2 603.0 409.2 603.0 464.2 603.0 398.2 603.1 377.9 603.1 365.6 603.1 358.0 603.1 352.8 603.1 349.5 603.1 347.8 603.1 347.3 603.2 348.2 603.2 350.5 603.2 354.3 603.2 360.2 603.2 368.9 603.2 383.2 603.2 409.1 603.3 466.0 603.3 398.6 603.3 378.2 603.3 365.8 603.3 358.1 603.3 353.0 603.3 349.7 603.3 347.9 603.4 347.5 603.4 348.3 603.4 350.6 603.4 354.4 603.4 360.2 603.4 368.9 603.4 383.2 603.5 408.9 603.5 467.9 603.5 398.9 603.5 378.5 603.5 366.0 603.5 358.3 603.5 353.2 603.6 349.9 603.6 348.1 603.6 347.6 603.6 348.5 603.6 350.7 603.6 354.5 603.6 360.3 603.7 369.0 603.7 383.2 603.7 408.7 603.7 469.8 603.7 399.3 603.7 378.7 603.7 366.2 603.7 358.5 603.8 353.4 603.8 350.0 603.8 348.2 603.8 347.7 603.8 348.6 603.8 350.8 603.8 354.6 603.9 360.4 603.9 369.0 603.9 383.2 603.9 408.6 603.9 471.9 603.9 399.7 603.9 379.0 604.0 366.4 604.0 358.7 604.0 353.5 604.0 350.2 604.0 348.4 604.0 347.9 604.0 348.7 604.0 350.9 604.1 354.7 604.1 360.5 604.1 369.1 604.1 383.2 604.1 408.4 604.1 474.1 604.1 400.0 604.2 379.2 604.2 366.7 604.2 358.9 604.2 353.7 604.2 350.4 604.2 348.5 604.2 348.0 604.3 348.9 604.3 351.1 604.3 354.8 604.3 360.6 604.3 369.2 604.3 383.2 604.3 408.3 604.3 476.4 604.4 400.4 604.4 379.5 604.4 366.9 604.4 359.1 604.4 353.9 604.4 350.5 604.4 348.7 604.5 348.2 604.5 349.0 604.5 351.2 604.5 354.9 604.5 360.7 604.5 369.2 604.5 383.2 604.6 408.1 604.6 478.9 604.6 400.8 604.6 379.8 604.6 367.1 604.6 359.3 604.6 354.1 604.6 350.7 604.7 348.8 604.7 348.3 604.7 349.1 604.7 351.3 604.7 355.0 604.7 360.8 604.7 369.3 604.8 383.2 604.8 407.9 604.8 481.5 604.8 401.2 604.8 380.0 604.8 367.3 604.8 359.5 604.8 354.2 604.9 350.8 604.9 349.0 604.9 348.4 604.9 349.2 604.9 351.4 604.9 355.1 604.9 360.8 605.0 369.3 605.0 383.2 605.0 407.8 605.0 484.4 605.0 401.5 605.0 380.3 605.0 367.5 605.0 359.7 605.1 354.4 605.1 351.0 605.1 349.1 605.1 348.6 605.1 349.4 605.1 351.5 605.1 355.2 605.2 360.9 605.2 369.4 605.2 383.3 605.2 407.6 605.2 487.5 605.2 401.9 605.2 380.5 605.2 367.7 605.3 359.9 605.3 354.6 605.3 351.2 605.3 349.3 605.3 348.7 605.3 349.5 605.3 351.6 605.4 355.3 605.4 361.0 605.4 369.4 605.4 383.3 605.4 407.5 605.4 490.8 605.4 402.3 605.4 380.8 605.5 367.9 605.5 360.0 605.5 354.7 605.5 351.3 605.5 349.4 605.5 348.9 605.5 349.6 605.6 351.8 605.6 355.4 605.6 361.1 605.6 369.5 605.6 383.3 605.6 407.4 605.6 494.5 605.6 402.7 605.7 381.0 605.7 368.2 605.7 360.2 605.7 354.9 605.7 351.5 605.7 349.6 605.7 349.0 605.8 349.7 605.8 351.9 605.8 355.5 605.8 361.2 605.8 369.6 605.8 383.3 605.8 407.2 605.8 498.6 605.9 403.0 605.9 381.3 605.9 368.4 605.9 360.4 605.9 355.1 605.9 351.6 605.9 349.7 606.0 349.1 606.0 349.9 606.0 352.0 606.0 355.7 606.0 361.3 606.0 369.6 606.0 383.3 606.0 407.1 606.1 503.3 606.1 403.4 606.1 381.6 606.1 368.6 606.1 360.6 606.1 355.2 606.1 351.8 606.1 349.8 606.2 349.3 606.2 350.0 606.2 352.1 606.2 355.8 606.2 361.3 606.2 369.7 606.2 383.3 606.3 406.9 606.3 508.7 606.3 403.8 606.3 381.8 606.3 368.8 606.3 360.8 606.3 355.4 606.3 351.9 606.4 350.0 606.4 349.4 606.4 350.1 606.4 352.2 606.4 355.9 606.4 361.4 606.4 369.7 606.4 383.3 606.5 406.8 606.5 515.0 606.5 404.2 606.5 382.1 606.5 369.0 606.5 361.0 606.5 355.6 606.6 352.1 606.6 350.1 606.6 349.5 606.6 350.2 606.6 352.3 606.6 355.9 606.6 361.5 606.6 369.8 606.7 383.3 606.7 406.7 606.7 522.6 606.7 404.6 606.7 382.3 606.7 369.2 606.7 361.2 606.7 355.8 606.8 352.2 606.8 350.3 606.8 349.7 606.8 350.4 606.8 352.4 606.8 356.0 606.8 361.6 606.9 369.8 606.9 383.3 606.9 406.5 606.9 532.5 606.9 405.0 606.9 382.6 606.9 369.4 606.9 361.3 607.0 355.9 607.0 352.4 607.0 350.4 607.0 349.8 607.0 350.5 607.0 352.5 607.0 356.1 607.0 361.7 607.1 369.9 607.1 383.3 607.1 406.4 607.1 546.4 607.1 405.4 607.1 382.8 607.1 369.6 607.1 361.5 607.2 356.1 607.2 352.6 607.2 350.6 607.2 349.9 607.2 350.6 607.2 352.7 607.2 356.2 607.2 361.8 607.3 369.9 607.3 383.3 607.3 406.3 607.3 569.9 607.3 405.8 607.3 383.1 607.3 369.8 607.4 361.7 607.4 356.3 607.4 352.7 607.4 350.7 607.4 350.1 607.4 350.7 607.4 352.8 607.4 356.3 607.5 361.8 607.5 370.0 607.5 383.3 607.5 406.1 607.5 1351.0 607.5 406.1 607.5 383.4 607.5 370.1 607.6 361.9 607.6 356.4 607.6 352.9 607.6 350.8 607.6 350.2 607.6 350.9 607.6 352.9 607.6 356.4 607.7 361.9 607.7 370.1 607.7 383.3 607.7 406.0 607.7 570.2 607.7 406.5 607.7 383.6 607.7 370.3 607.8 362.1 607.8 356.6 607.8 353.0 607.8 351.0 607.8 350.3 607.8 351.0 607.8 353.0 607.8 356.5 607.9 362.0 607.9 370.1 607.9 383.3 607.9 405.9 607.9 546.9 607.9 406.9 607.9 383.9 608.0 370.5 608.0 362.3 608.0 356.8 608.0 353.2 608.0 351.1 608.0 350.5 608.0 351.1 608.0 353.1 608.1 356.6 608.1 362.1 608.1 370.2 608.1 383.3 608.1 405.7 608.1 533.3 608.1 407.3 608.1 384.1 608.2 370.7 608.2 362.5 608.2 356.9 608.2 353.3 608.2 351.3 608.2 350.6 608.2 351.2 608.2 353.2 608.3 356.7 608.3 362.2 608.3 370.2 608.3 383.4 608.3 405.6 608.3 523.7 608.3 407.7 608.3 384.4 608.4 370.9 608.4 362.6 608.4 357.1 608.4 353.5 608.4 351.4 608.4 350.7 608.4 351.3 608.4 353.3 608.5 356.8 608.5 362.2 608.5 370.3 608.5 383.4 608.5 405.5 608.5 516.3 608.5 408.1 608.5 384.6 608.6 371.1 608.6 362.8 608.6 357.3 608.6 353.6 608.6 351.6 608.6 350.8 608.6 351.5 608.6 353.4 608.7 356.9 608.7 362.3 608.7 370.3 608.7 383.4 608.7 405.4 608.7 510.2 608.7 408.5 608.7 384.9 608.8 371.3 608.8 363.0 608.8 357.4 608.8 353.8 608.8 351.7 608.8 351.0 608.8 351.6 608.8 353.5 608.9 357.0 608.9 362.4 608.9 370.4 608.9 383.4 608.9 405.3 608.9 505.2 608.9 408.9 608.9 385.2 609.0 371.5 609.0 363.2 609.0 357.6 609.0 353.9 609.0 351.8 609.0 351.1 609.0 351.7 609.0 353.6 609.1 357.1 609.1 362.5 609.1 370.4 609.1 383.4 609.1 405.1 609.1 500.8 609.1 409.3 609.1 385.4 609.2 371.7 609.2 363.4 609.2 357.7 609.2 354.1 609.2 352.0 609.2 351.2 609.2 351.8 609.2 353.7 609.3 357.2 609.3 362.5 609.3 370.5 609.3 383.4 609.3 405.0 609.3 496.9 609.3 409.8 609.3 385.7 609.3 371.9 609.4 363.5 609.4 357.9 609.4 354.2 609.4 352.1 609.4 351.4 609.4 351.9 609.4 353.9 609.4 357.3 609.5 362.6 609.5 370.5 609.5 383.4 609.5 404.9 609.5 493.5 609.5 410.2 609.5 385.9 609.5 372.1 609.6 363.7 609.6 358.1 609.6 354.4 609.6 352.2 609.6 351.5 609.6 352.0 609.6 354.0 609.6 357.4 609.7 362.7 609.7 370.6 609.7 383.4 609.7 404.8 609.7 490.4 609.7 410.6 609.7 386.2 609.7 372.3 609.8 363.9 609.8 358.2 609.8 354.5 609.8 352.4 609.8 351.6 609.8 352.2 609.8 354.1 609.8 357.5 609.9 362.8 609.9 370.6 609.9 383.4 609.9 404.7 609.9 487.6 609.9 411.0 609.9 386.5 609.9 372.6 610.0 364.1 610.0 358.4 610.0 354.7 610.0 352.5 610.0 351.7 610.0 352.3 610.0 354.2 610.0 357.6 610.0 362.8 610.1 370.7 610.1 383.4 610.1 404.6 610.1 485.0 610.1 411.4 610.1 386.7 610.1 372.8 610.1 364.3 610.2 358.6 610.2 354.8 610.2 352.7 610.2 351.9 610.2 352.4 610.2 354.3 610.2 357.7 610.2 362.9 610.3 370.7 610.3 383.4 610.3 404.5 610.3 482.6" fill="none" stroke="url(#g)" stroke-width="1"/>
<path transform="translate(0 0.8)" d="M191.29 81.06 L517.09 291.69" fill="none" stroke="#140c90" stroke-width="2.8" stroke-dasharray="5 7" stroke-dashoffset="2"/>
</g>
<text x="197.4" y="458.9" text-anchor="middle">10<tspan dy="-9.3" font-size="8.5" font-weight="bold">–</tspan><tspan dy="0.2" font-size="9.5">2</tspan></text>
<text x="317.9" y="458.9" text-anchor="middle">10<tspan dy="-9.3" font-size="8.5" font-weight="bold">–</tspan><tspan dy="0.2" font-size="9.5">1</tspan></text>
<text x="438.4" y="458.9" text-anchor="middle">10<tspan dy="-8.3" font-size="9.5">0</tspan></text>
<text x="558.9" y="458.9" text-anchor="middle">10<tspan dy="-8.3" font-size="9.5">1</tspan></text>
<text x="147.4" y="128.7" text-anchor="end">10</text><text x="147.6" y="119.9" style="font-size:9.5px">0</text>
<text x="147.4" y="206.6" text-anchor="end">10</text><text x="147.6" y="198.8"><tspan font-size="8.5" font-weight="bold">–</tspan><tspan dy="-1.0" font-size="9.5">1</tspan></text>
<text x="147.4" y="284.5" text-anchor="end">10</text><text x="147.6" y="276.7"><tspan font-size="8.5" font-weight="bold">–</tspan><tspan dy="-1.0" font-size="9.5">2</tspan></text>
<text x="147.4" y="362.4" text-anchor="end">10</text><text x="147.6" y="354.6"><tspan font-size="8.5" font-weight="bold">–</tspan><tspan dy="-1.0" font-size="9.5">3</tspan></text>
<text x="147.4" y="440.3" text-anchor="end">10</text><text x="147.6" y="432.5"><tspan font-size="8.5" font-weight="bold">–</tspan><tspan dy="-1.0" font-size="9.5">4</tspan></text>
<text x="319.4" y="477.5">frequency(Hz=sec<tspan dy="-6.4" font-size="9.5" font-weight="bold">–</tspan><tspan dx="1.2" dy="-0.8" font-size="8.8">1</tspan><tspan dx="1.5" dy="7.2">)</tspan></text>
<text transform="translate(124.7 309) rotate(-90)" x="0" y="0">velocity(m/sec)</text>
<path d="M517 170.3 L401 203.3" stroke="#222" stroke-width="0.9" fill="none"/>
<path d="M396 204.7 L402.5 200.6 L403.2 205.4 Z" fill="#000"/>
<text x="522" y="171.8" style="font-size:16px">f<tspan dx="0.9" dy="-7.4" font-size="11" font-weight="bold">–</tspan><tspan dx="0.9" dy="-0.6" font-size="11" font-weight="bold">1</tspan></text>
</svg>
</body></html>
